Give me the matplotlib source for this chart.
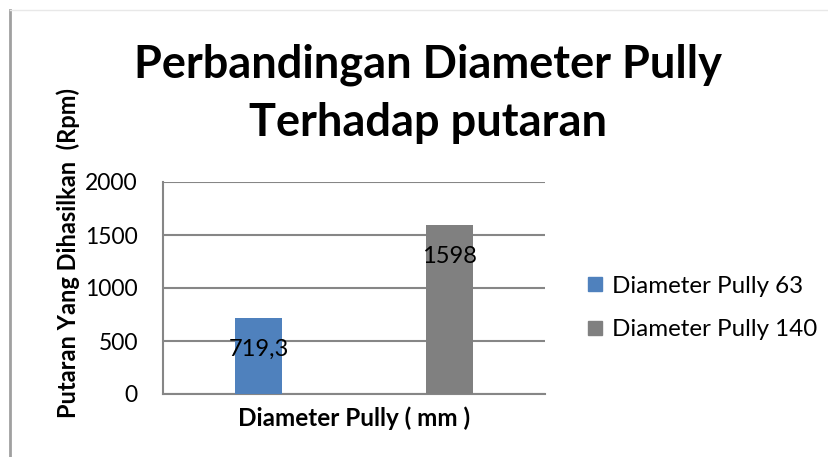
import matplotlib
matplotlib.use('Agg')
import matplotlib.pyplot as plt
from matplotlib.lines import Line2D

plt.rcParams['font.family'] = ['Lato', 'DejaVu Sans']

# data
series = ['Diameter Pully 63', 'Diameter Pully 140']
values = [719.3, 1598]
labels = ['719,3', '1598']
colors = ['#4f81bd', '#808080']
yticks = [0, 500, 1000, 1500, 2000]

fig = plt.figure(figsize=(8.29, 4.57), dpi=100)
ax = fig.add_axes([163 / 829, 1 - 394 / 457, 382 / 829, 212 / 457])

pos = [-0.25, 0.25]
for i in range(len(series)):
    ax.bar(pos[i], values[i], width=0.125, color=colors[i], label=series[i], zorder=3)
    ax.text(pos[i], values[i] - 300, labels[i], ha='center', va='center', fontsize=17, color='black', zorder=4)

ax.set_xlim(-0.5, 0.5)
ax.set_ylim(0, 2000)
ax.set_yticks(yticks)
ax.set_yticklabels([str(t) for t in yticks], fontsize=16.5)
ax.set_xticks([])
ax.grid(axis='y', color='#868686', linewidth=1.5, zorder=0)
for s in ['top', 'right']:
    ax.spines[s].set_visible(False)
ax.spines['left'].set_color('#868686')
ax.spines['left'].set_linewidth(1.5)
ax.spines['bottom'].set_color('#868686')
ax.spines['bottom'].set_linewidth(1.5)
ax.tick_params(axis='y', length=0, pad=18)

ax.set_xlabel('Diameter Pully ( mm )', fontsize=17.5, fontweight='bold', labelpad=9)
fig.text(68 / 829, 1 - 253 / 457, 'Putaran Yang Dihasilkan  (Rpm)', rotation=90,
         ha='center', va='center', fontsize=17, fontweight='bold')

fig.text(428 / 829, 1 - 65 / 457, 'Perbandingan Diameter Pully', ha='center', va='center',
         fontsize=32.5, fontweight='bold')
fig.text(428 / 829, 1 - 123 / 457, 'Terhadap putaran', ha='center', va='center',
         fontsize=32.5, fontweight='bold')

handles = [Line2D([], [], marker='s', linestyle='none', markersize=9.4,
                  markerfacecolor=c, markeredgecolor=c) for c in colors]
fig.legend(handles, series, loc='center left', bbox_to_anchor=(585 / 829, 1 - 308 / 457),
           frameon=False, fontsize=17.4, handlelength=0.8, handletextpad=0.3,
           labelspacing=0.93, borderpad=0, borderaxespad=0)

# chart frame lines
fig.add_artist(Line2D([10 / 829, 10 / 829], [0, 1 - 10 / 457], color='#a0a0a0', linewidth=2))
fig.add_artist(Line2D([10 / 829, 1], [1 - 10 / 457, 1 - 10 / 457], color='#e8e8e8', linewidth=1))

fig.savefig('out.png', dpi=100)
